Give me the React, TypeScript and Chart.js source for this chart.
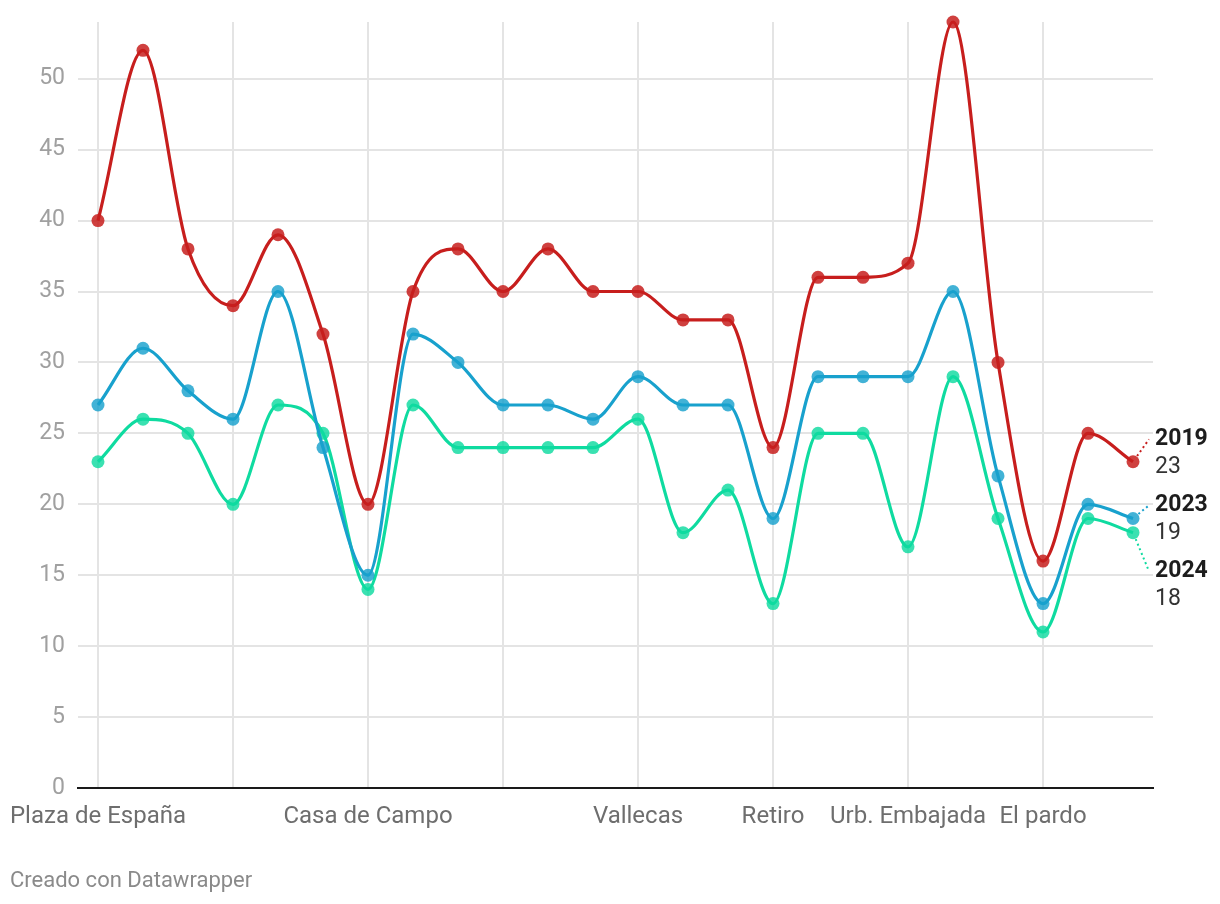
import React, { useEffect, useRef } from "react";
import { Chart, registerables } from "chart.js";

Chart.register(...registerables);

// Estaciones (orden del gráfico)
const categories = [
  "Plaza de España", "Escuelas Aguirre", "Av. Ramón y Cajal", "Arturo Soria",
  "Villaverde", "Farolillo", "Casa de Campo", "Barajas Pueblo",
  "Pza. del Carmen", "Moratalaz", "Cuatro Caminos", "Barrio del Pilar",
  "Vallecas", "Méndez Álvaro", "Castellana", "Retiro",
  "Plaza Castilla", "Ensanche de Vallecas", "Urb. Embajada", "Pza. Fernández Ladreda",
  "Sanchinarro", "El pardo", "Juan Carlos I", "Tres Olivos",
];
const gridTickIndices = [0, 3, 6, 9, 12, 15, 18, 21];
const labelledTickIndices = [0, 6, 12, 15, 18, 21];
const yTicks = [0, 5, 10, 15, 20, 25, 30, 35, 40, 45, 50];

const seriesNames = ["2019", "2023", "2024"];
const values2019 = [40, 52, 38, 34, 39, 32, 20, 35, 38, 35, 38, 35, 35, 33, 33, 24, 36, 36, 37, 54, 30, 16, 25, 23];
const values2023 = [27, 31, 28, 26, 35, 24, 15, 32, 30, 27, 27, 26, 29, 27, 27, 19, 29, 29, 29, 35, 22, 13, 20, 19];
const values2024 = [23, 26, 25, 20, 27, 25, 14, 27, 24, 24, 24, 24, 26, 18, 21, 13, 25, 25, 17, 29, 19, 11, 19, 18];
const seriesColors = ["#c71e1d", "#18a1cd", "#0fdba0"];
const pointColors = ["rgba(199,30,29,0.85)", "rgba(24,161,205,0.82)", "rgba(15,219,160,0.82)"];

const FONT = "Roboto, 'Noto Sans', sans-serif";

const endLabelsPlugin = {
  id: "endLabels",
  afterDatasetsDraw(chart: any) {
    const ctx = chart.ctx;
    const items = chart.data.datasets.map((ds: any, i: number) => {
      const meta = chart.getDatasetMeta(i);
      const pt = meta.data[meta.data.length - 1];
      return { i, x: pt.x, y: pt.y, name: ds.label, value: ds.data[ds.data.length - 1].y, pos: pt.y };
    });
    // resolve overlaps by group centering
    const gap = 66;
    const sorted = [...items].sort((a, b) => a.y - b.y);
    let groups = sorted.map((it) => ({ items: [it], center: it.y }));
    let changed = true;
    while (changed) {
      changed = false;
      for (let g = 0; g < groups.length - 1; g++) {
        const a = groups[g], b = groups[g + 1];
        const aBottom = a.center + ((a.items.length - 1) * gap) / 2;
        const bTop = b.center - ((b.items.length - 1) * gap) / 2;
        if (bTop - aBottom < gap) {
          const merged = [...a.items, ...b.items];
          const mean = merged.reduce((s, it) => s + it.y, 0) / merged.length;
          groups.splice(g, 2, { items: merged, center: mean });
          changed = true;
          break;
        }
      }
    }
    groups.forEach((g) => {
      g.items.forEach((it, k) => {
        it.pos = g.center - ((g.items.length - 1) * gap) / 2 + k * gap;
      });
    });
    const labelX = chart.chartArea.right + 2;
    ctx.save();
    items.forEach((it: any) => {
      const color = seriesColors[it.i];
      const ex = labelX - 6, ey = it.pos + 1;
      const dx = ex - it.x, dy = ey - it.y;
      const len = Math.sqrt(dx * dx + dy * dy) || 1;
      ctx.beginPath();
      ctx.setLineDash([2, 3]);
      ctx.lineWidth = 2;
      ctx.strokeStyle = color;
      ctx.moveTo(it.x + (dx / len) * 7, it.y + (dy / len) * 7);
      ctx.lineTo(ex, ey);
      ctx.stroke();
      ctx.setLineDash([]);
      ctx.textAlign = "left";
      ctx.textBaseline = "middle";
      ctx.fillStyle = "#1d1d1d";
      ctx.font = `bold 23px ${FONT}`;
      ctx.fillText(it.name, labelX, it.pos + 1);
      ctx.fillStyle = "#333333";
      ctx.font = `23px ${FONT}`;
      ctx.fillText(String(it.value), labelX, it.pos + 29);
    });
    ctx.restore();
  },
};

export default function App() {
  const ref = useRef<HTMLCanvasElement | null>(null);
  useEffect(() => {
    document.body.style.margin = "0";
    const seriesValues = [values2019, values2023, values2024];
    const chart = new Chart(ref.current as HTMLCanvasElement, {
      type: "line",
      data: {
        datasets: seriesNames.map((name, i) => ({
          label: name,
          data: seriesValues[i].map((v, k) => ({ x: k, y: v })),
          borderColor: seriesColors[i],
          backgroundColor: pointColors[i],
          pointBackgroundColor: pointColors[i],
          pointBorderWidth: 0,
          pointRadius: 6.5,
          borderWidth: 3.2,
          cubicInterpolationMode: "monotone" as const,
          fill: false,
          clip: false as any,
        })),
      },
      options: {
        animation: false,
        responsive: false,
        maintainAspectRatio: false,
        layout: { padding: { left: 0, right: 67, top: 22, bottom: 0 } },
        plugins: { legend: { display: false }, tooltip: { enabled: false } },
        scales: {
          x: {
            type: "linear",
            min: -0.444,
            max: categories.length - 1 + 0.444,
            afterBuildTicks: (scale: any) => {
              scale.ticks = gridTickIndices.map((v) => ({ value: v }));
            },
            afterFit: (scale: any) => {
              scale.height = 116;
              scale.paddingLeft = 0;
              scale.paddingRight = 0;
              scale.paddingTop = 0;
              scale.paddingBottom = 0;
            },
            grid: { color: "#e4e4e4", lineWidth: 2, drawTicks: false },
            border: { display: true, color: "#1a1a1a", width: 2 },
            ticks: {
              autoSkip: false,
              maxRotation: 0,
              padding: 15,
              color: "#6e6e6e",
              font: { family: FONT, size: 24 },
              callback: (v: any) => (labelledTickIndices.includes(Number(v)) ? categories[Number(v)] : ""),
            },
          },
          y: {
            min: 0,
            max: 54,
            afterBuildTicks: (scale: any) => {
              scale.ticks = yTicks.map((v) => ({ value: v }));
            },
            afterFit: (scale: any) => {
              scale.width = 78;
              scale.paddingLeft = 0;
              scale.paddingRight = 0;
              scale.paddingTop = 0;
              scale.paddingBottom = 0;
            },
            grid: { color: "#e4e4e4", lineWidth: 2, drawTicks: false },
            border: { display: false },
            ticks: {
              padding: 13,
              color: "#a0a0a0",
              font: { family: FONT, size: 23 },
            },
          },
        },
      },
      plugins: [endLabelsPlugin],
    });
    return () => chart.destroy();
  }, []);
  return (
    <div style={{ position: "relative", width: 1220, height: 904, background: "#fff" }}>
      <canvas ref={ref} width={1220} height={904} style={{ display: "block" }} />
      <div
        style={{
          position: "absolute",
          left: 10,
          top: 866,
          fontFamily: FONT,
          fontSize: 22,
          lineHeight: "28px",
          color: "#8a8a8a",
        }}
      >
        Creado con Datawrapper
      </div>
    </div>
  );
}
